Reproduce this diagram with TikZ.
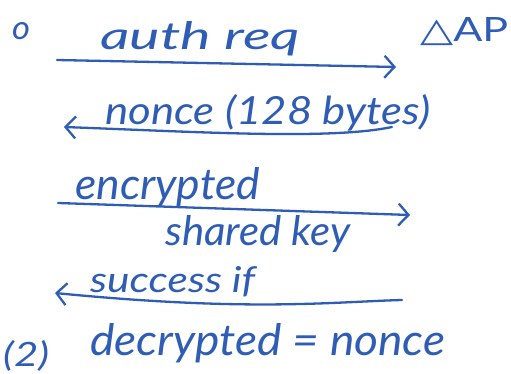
\documentclass[tikz,border=0pt]{standalone}
\usepackage{fontspec}
\setmainfont{Lato}
\newfontfamily\symfont{DejaVu Sans}
\usetikzlibrary{arrows.meta}
\definecolor{ink}{HTML}{2F5DB5}
\newcommand{\hw}[3]{\resizebox{#1pt}{#2pt}{\itshape #3}}
\tikzset{
  ink/.style={draw=ink, line width=2.3pt, line cap=round},
  arr/.style={ink, -{Straight Barb[length=10pt,width=22pt,line width=2.3pt]}},
  lbl/.style={inner sep=0pt, anchor=base west, text=ink}
}
\begin{document}
\begin{tikzpicture}[x=1pt,y=-1pt]
\useasboundingbox (0,0) rectangle (511,374);
\fill[white] (0,0) rectangle (511,374);
% participants
\node[lbl] (sta) at (12,40) {\hw{18}{17}{o}};
\node[lbl] (ap) at (420,42) {\resizebox{88pt}{24pt}{{\symfont △}AP}};
% message labels
\node[lbl] (m1) at (100,50) {\hw{200}{28}{auth req}};
\node[lbl] (m2) at (105,125) {\hw{325}{30}{nonce (128 bytes)}};
\node[lbl] (m3a) at (75,200) {\hw{185}{32}{encrypted}};
\node[lbl] (m3b) at (165,245) {\hw{185}{30}{shared key}};
\node[lbl] (m4a) at (90,292) {\hw{165}{26}{success if}};
\node[lbl] (m4b) at (90,355) {\hw{355}{32}{decrypted = nonce}};
\node[lbl] (side) at (3,366) {\hw{46}{26}{(2)}};
% arrow end points
\coordinate (a1s) at (57,60);
\coordinate (a1e) at (396,67);
\coordinate (a2s) at (392,127);
\coordinate (a2e) at (64,127);
\coordinate (a3s) at (58,203);
\coordinate (a3e) at (410,215);
\coordinate (a4s) at (402,300);
\coordinate (a4e) at (55,293);
% arrows
\draw[arr] (a1s) -- (a1e);
\draw[arr] (a2s) .. controls (330,140) and (200,132) .. (a2e);
\draw[arr] (a3s) -- (a3e);
\draw[arr] (a4s) .. controls (330,302) and (250,312) .. (a4e);
\end{tikzpicture}
\end{document}
